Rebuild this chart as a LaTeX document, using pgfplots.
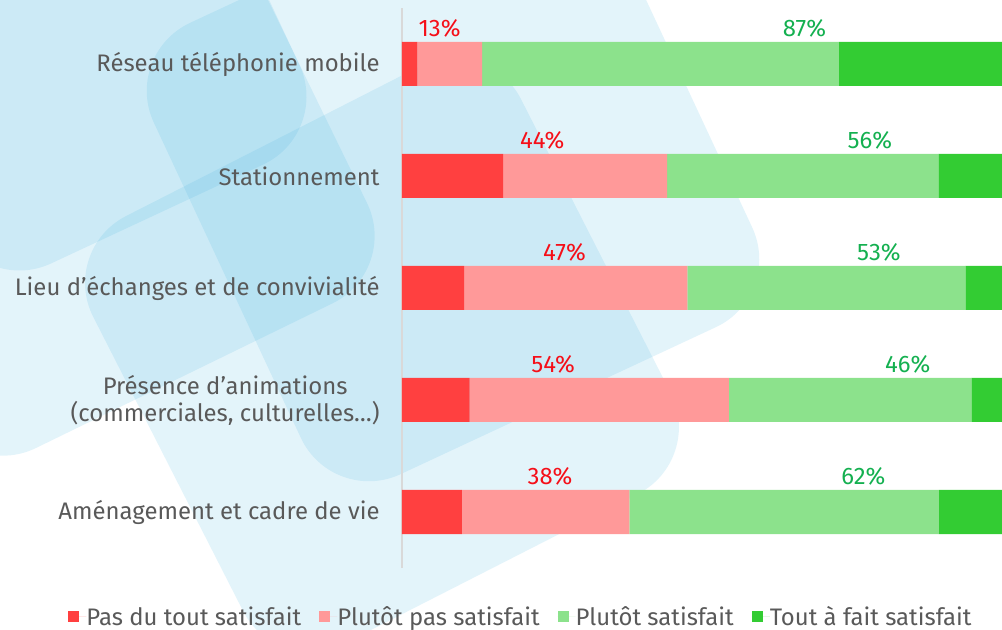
\documentclass[border=0pt]{standalone}
\usepackage{fontspec}
\setmainfont{Fira Sans}
\usepackage{pgfplots}
\pgfplotsset{compat=1.18}
\definecolor{cRed}{RGB}{255,64,64}
\definecolor{cPink}{RGB}{255,153,153}
\definecolor{cLGreen}{RGB}{140,226,140}
\definecolor{cDGreen}{RGB}{51,204,51}
\definecolor{cLabRed}{RGB}{245,15,25}
\definecolor{cLabGreen}{RGB}{20,176,80}
\definecolor{cText}{RGB}{89,89,89}
\definecolor{bgblue}{RGB}{60,175,220}
\tikzset{pct/.style={font=\fontsize{24}{24}\selectfont, yshift=36bp},
  bgshape/.style={fill=bgblue, fill opacity=0.14, rounded corners=75bp}}
\begin{document}
\begin{tikzpicture}
\useasboundingbox (0,0) rectangle (1002bp,630bp);
% decorative background (rounded squares)
\fill[bgshape, rotate around={26:(79bp,470bp)}] (-161bp,230bp) rectangle (319bp,710bp);
\fill[bgshape, rotate around={25:(76bp,590bp)}] (-116bp,398bp) rectangle (268bp,782bp);
\fill[bgshape, rotate around={25:(453bp,455bp)}] (204bp,206bp) rectangle (702bp,704bp);
\fill[bgshape, rotate around={27:(382bp,275bp)}] (142bp,35bp) rectangle (622bp,515bp);
\begin{axis}[
  at={(401.8bp,62bp)}, anchor=south west,
  scale only axis, width=600.2bp, height=560bp,
  xbar stacked, bar width=44bp,
  xmin=0, xmax=100, ymin=0.5, ymax=5.5,
  axis x line=none, axis y line*=left,
  y axis line style={draw=black!15, line width=1.5bp},
  ytick={1,2,3,4,5},
  yticklabels={Aménagement et cadre de vie, {Présence d’animations\\(commerciales, culturelles…)}, Lieu d’échanges et de convivialité, Stationnement, Réseau téléphonie mobile},
  major tick length=0pt,
  yticklabel style={font=\fontsize{24}{27}\selectfont, text=cText, align=center, inner sep=0pt, xshift=-22bp},
  clip=false,
  legend style={at={(0.197,-0.0866)}, anchor=center, draw=none, fill=none, legend columns=4,
    font=\fontsize{24}{24}\selectfont, text=cText, nodes={inner sep=0pt},
    /tikz/every even column/.append style={column sep=18bp}},
]
\addplot[fill=cRed, draw=none, legend image code/.code={\path (0bp,0bp) -- (18bp,0bp); \fill[cRed] (0bp,-6bp) rectangle (11bp,5bp);}]
  coordinates {(10.0,1) (11.3,2) (10.4,3) (16.9,4) (2.6,5)};
\addplot[fill=cPink, draw=none, legend image code/.code={\path (0bp,0bp) -- (18bp,0bp); \fill[cPink] (0bp,-6bp) rectangle (11bp,5bp);}]
  coordinates {(27.9,1) (43.2,2) (37.2,3) (27.3,4) (10.8,5)};
\addplot[fill=cLGreen, draw=none, legend image code/.code={\path (0bp,0bp) -- (18bp,0bp); \fill[cLGreen] (0bp,-6bp) rectangle (11bp,5bp);}]
  coordinates {(51.6,1) (40.4,2) (46.3,3) (45.2,4) (59.4,5)};
\addplot[fill=cDGreen, draw=none, legend image code/.code={\path (0bp,0bp) -- (18bp,0bp); \fill[cDGreen] (0bp,-6bp) rectangle (11bp,5bp);}]
  coordinates {(10.5,1) (5.1,2) (6.1,3) (10.6,4) (27.2,5)};
\legend{Pas du tout satisfait, Plutôt pas satisfait, Plutôt satisfait, Tout à fait satisfait}
\node[pct, text=cLabRed] at (axis cs:6.3,5) {13\%};
\node[pct, text=cLabGreen] at (axis cs:67.1,5) {87\%};
\node[pct, text=cLabRed] at (axis cs:23.4,4) {44\%};
\node[pct, text=cLabGreen] at (axis cs:78.0,4) {56\%};
\node[pct, text=cLabRed] at (axis cs:27.1,3) {47\%};
\node[pct, text=cLabGreen] at (axis cs:79.5,3) {53\%};
\node[pct, text=cLabRed] at (axis cs:25.2,2) {54\%};
\node[pct, text=cLabGreen] at (axis cs:84.3,2) {46\%};
\node[pct, text=cLabRed] at (axis cs:24.7,1) {38\%};
\node[pct, text=cLabGreen] at (axis cs:76.9,1) {62\%};
\end{axis}
\end{tikzpicture}
\end{document}
